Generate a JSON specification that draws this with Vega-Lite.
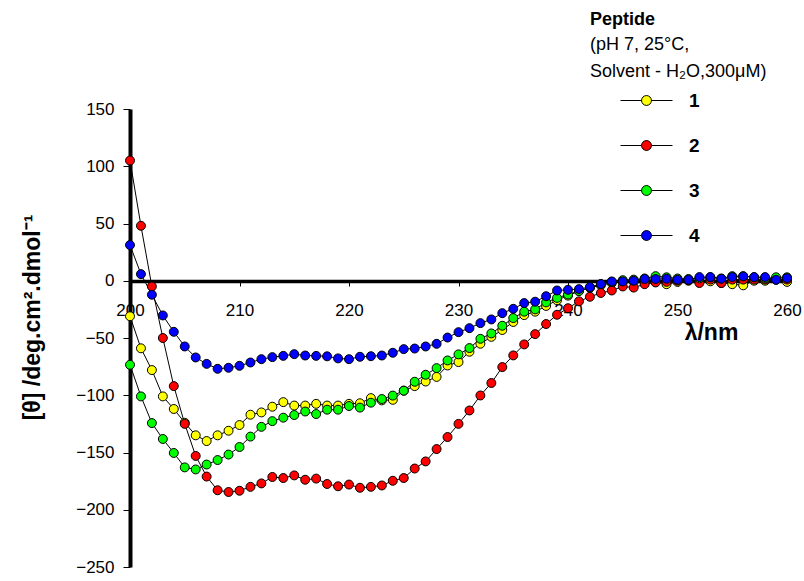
{
  "$schema": "https://vega.github.io/schema/vega-lite/v6.json",
  "autosize": "none",
  "width": 657,
  "height": 458,
  "padding": {"left": 130, "top": 109, "right": 17, "bottom": 14},
  "background": "white",
  "config": {"view": {"stroke": null}, "font": "Liberation Sans"},
  "title": {
    "text": "Peptide",
    "subtitle": ["(pH 7, 25°C,", "\u00a0Solvent - H₂O,300μM)"],
    "anchor": "start",
    "frame": "group",
    "dx": 460,
    "offset": -7,
    "font": "Liberation Sans",
    "fontSize": 18,
    "fontWeight": "bold",
    "color": "black",
    "subtitleFont": "Liberation Sans",
    "subtitleFontSize": 18,
    "subtitleFontWeight": "normal",
    "subtitleColor": "black",
    "subtitlePadding": 7,
    "subtitleLineHeight": 27
  },
  "data": {"values": [
    {"p":"1","x":200,"v":-31},{"p":"1","x":201,"v":-59},{"p":"1","x":202,"v":-78},{"p":"1","x":203,"v":-101},{"p":"1","x":204,"v":-112},{"p":"1","x":205,"v":-124},{"p":"1","x":206,"v":-135},{"p":"1","x":207,"v":-140},{"p":"1","x":208,"v":-135},{"p":"1","x":209,"v":-131},{"p":"1","x":210,"v":-126},{"p":"1","x":211,"v":-117},{"p":"1","x":212,"v":-115},{"p":"1","x":213,"v":-110},{"p":"1","x":214,"v":-106},{"p":"1","x":215,"v":-109},{"p":"1","x":216,"v":-109},{"p":"1","x":217,"v":-107.5},{"p":"1","x":218,"v":-109},{"p":"1","x":219,"v":-109},{"p":"1","x":220,"v":-107.5},{"p":"1","x":221,"v":-107},{"p":"1","x":222,"v":-102.5},{"p":"1","x":223,"v":-104.5},{"p":"1","x":224,"v":-104},{"p":"1","x":225,"v":-96},{"p":"1","x":226,"v":-92},{"p":"1","x":227,"v":-88},{"p":"1","x":228,"v":-84},{"p":"1","x":229,"v":-74},{"p":"1","x":230,"v":-71},{"p":"1","x":231,"v":-62},{"p":"1","x":232,"v":-55},{"p":"1","x":233,"v":-49},{"p":"1","x":234,"v":-43},{"p":"1","x":235,"v":-36},{"p":"1","x":236,"v":-30},{"p":"1","x":237,"v":-27},{"p":"1","x":238,"v":-22},{"p":"1","x":239,"v":-17},{"p":"1","x":240,"v":-13},{"p":"1","x":241,"v":-9},{"p":"1","x":242,"v":-6},{"p":"1","x":243,"v":-4},{"p":"1","x":244,"v":-2},{"p":"1","x":245,"v":-1},{"p":"1","x":246,"v":-1},{"p":"1","x":247,"v":-1.5},{"p":"1","x":248,"v":-1},{"p":"1","x":249,"v":-3},{"p":"1","x":250,"v":-1},{"p":"1","x":251,"v":0},{"p":"1","x":252,"v":0},{"p":"1","x":253,"v":-0.5},{"p":"1","x":254,"v":-2},{"p":"1","x":255,"v":-3},{"p":"1","x":256,"v":-4},{"p":"1","x":257,"v":0},{"p":"1","x":258,"v":0},{"p":"1","x":259,"v":1},{"p":"1","x":260,"v":-1},
    {"p":"2","x":200,"v":105},{"p":"2","x":201,"v":48},{"p":"2","x":202,"v":-5},{"p":"2","x":203,"v":-50},{"p":"2","x":204,"v":-92},{"p":"2","x":205,"v":-125},{"p":"2","x":206,"v":-153},{"p":"2","x":207,"v":-171},{"p":"2","x":208,"v":-183},{"p":"2","x":209,"v":-184.5},{"p":"2","x":210,"v":-183.4},{"p":"2","x":211,"v":-180},{"p":"2","x":212,"v":-177},{"p":"2","x":213,"v":-171.4},{"p":"2","x":214,"v":-172.3},{"p":"2","x":215,"v":-170},{"p":"2","x":216,"v":-173.8},{"p":"2","x":217,"v":-172.8},{"p":"2","x":218,"v":-177.5},{"p":"2","x":219,"v":-179.5},{"p":"2","x":220,"v":-178},{"p":"2","x":221,"v":-180.8},{"p":"2","x":222,"v":-180},{"p":"2","x":223,"v":-178.8},{"p":"2","x":224,"v":-174.7},{"p":"2","x":225,"v":-172.3},{"p":"2","x":226,"v":-164},{"p":"2","x":227,"v":-157.8},{"p":"2","x":228,"v":-147},{"p":"2","x":229,"v":-136.5},{"p":"2","x":230,"v":-125},{"p":"2","x":231,"v":-113.3},{"p":"2","x":232,"v":-100.2},{"p":"2","x":233,"v":-89.3},{"p":"2","x":234,"v":-75.4},{"p":"2","x":235,"v":-65.2},{"p":"2","x":236,"v":-55.6},{"p":"2","x":237,"v":-46.6},{"p":"2","x":238,"v":-37.8},{"p":"2","x":239,"v":-29.7},{"p":"2","x":240,"v":-24},{"p":"2","x":241,"v":-18},{"p":"2","x":242,"v":-14},{"p":"2","x":243,"v":-10.7},{"p":"2","x":244,"v":-8.5},{"p":"2","x":245,"v":-5},{"p":"2","x":246,"v":-6},{"p":"2","x":247,"v":-3},{"p":"2","x":248,"v":-1.5},{"p":"2","x":249,"v":-1},{"p":"2","x":250,"v":0},{"p":"2","x":251,"v":0.5},{"p":"2","x":252,"v":-2},{"p":"2","x":253,"v":1},{"p":"2","x":254,"v":-2},{"p":"2","x":255,"v":1},{"p":"2","x":256,"v":1},{"p":"2","x":257,"v":1},{"p":"2","x":258,"v":1},{"p":"2","x":259,"v":1},{"p":"2","x":260,"v":1},
    {"p":"3","x":200,"v":-73.4},{"p":"3","x":201,"v":-101},{"p":"3","x":202,"v":-124.3},{"p":"3","x":203,"v":-138.2},{"p":"3","x":204,"v":-150.4},{"p":"3","x":205,"v":-163},{"p":"3","x":206,"v":-164.8},{"p":"3","x":207,"v":-160.5},{"p":"3","x":208,"v":-156.6},{"p":"3","x":209,"v":-151.8},{"p":"3","x":210,"v":-145.2},{"p":"3","x":211,"v":-136.1},{"p":"3","x":212,"v":-127.6},{"p":"3","x":213,"v":-122.6},{"p":"3","x":214,"v":-119.6},{"p":"3","x":215,"v":-117.3},{"p":"3","x":216,"v":-114.2},{"p":"3","x":217,"v":-116.4},{"p":"3","x":218,"v":-112.6},{"p":"3","x":219,"v":-112.6},{"p":"3","x":220,"v":-109.4},{"p":"3","x":221,"v":-110.8},{"p":"3","x":222,"v":-106.5},{"p":"3","x":223,"v":-103.3},{"p":"3","x":224,"v":-100.3},{"p":"3","x":225,"v":-96},{"p":"3","x":226,"v":-88.2},{"p":"3","x":227,"v":-82.1},{"p":"3","x":228,"v":-76.3},{"p":"3","x":229,"v":-69.6},{"p":"3","x":230,"v":-64.3},{"p":"3","x":231,"v":-58.8},{"p":"3","x":232,"v":-50.7},{"p":"3","x":233,"v":-46},{"p":"3","x":234,"v":-39.3},{"p":"3","x":235,"v":-32.6},{"p":"3","x":236,"v":-27},{"p":"3","x":237,"v":-25},{"p":"3","x":238,"v":-18.9},{"p":"3","x":239,"v":-15},{"p":"3","x":240,"v":-12},{"p":"3","x":241,"v":-9},{"p":"3","x":242,"v":-6},{"p":"3","x":243,"v":-3},{"p":"3","x":244,"v":-1},{"p":"3","x":245,"v":0.5},{"p":"3","x":246,"v":1},{"p":"3","x":247,"v":2},{"p":"3","x":248,"v":4},{"p":"3","x":249,"v":3},{"p":"3","x":250,"v":2},{"p":"3","x":251,"v":1.5},{"p":"3","x":252,"v":2},{"p":"3","x":253,"v":3},{"p":"3","x":254,"v":2},{"p":"3","x":255,"v":4},{"p":"3","x":256,"v":4},{"p":"3","x":257,"v":3},{"p":"3","x":258,"v":2},{"p":"3","x":259,"v":3},{"p":"3","x":260,"v":3},
    {"p":"4","x":200,"v":31.2},{"p":"4","x":201,"v":5.8},{"p":"4","x":202,"v":-12.2},{"p":"4","x":203,"v":-30.3},{"p":"4","x":204,"v":-44.6},{"p":"4","x":205,"v":-57.4},{"p":"4","x":206,"v":-67},{"p":"4","x":207,"v":-72.6},{"p":"4","x":208,"v":-76.9},{"p":"4","x":209,"v":-76},{"p":"4","x":210,"v":-74.3},{"p":"4","x":211,"v":-71.4},{"p":"4","x":212,"v":-68.5},{"p":"4","x":213,"v":-66.7},{"p":"4","x":214,"v":-65.6},{"p":"4","x":215,"v":-64.1},{"p":"4","x":216,"v":-65.3},{"p":"4","x":217,"v":-65.6},{"p":"4","x":218,"v":-66},{"p":"4","x":219,"v":-67.8},{"p":"4","x":220,"v":-68.5},{"p":"4","x":221,"v":-66.4},{"p":"4","x":222,"v":-65.9},{"p":"4","x":223,"v":-65.3},{"p":"4","x":224,"v":-62.9},{"p":"4","x":225,"v":-59.7},{"p":"4","x":226,"v":-59.2},{"p":"4","x":227,"v":-57.4},{"p":"4","x":228,"v":-55.1},{"p":"4","x":229,"v":-49.6},{"p":"4","x":230,"v":-44.9},{"p":"4","x":231,"v":-41.4},{"p":"4","x":232,"v":-37},{"p":"4","x":233,"v":-33.8},{"p":"4","x":234,"v":-28.3},{"p":"4","x":235,"v":-24.5},{"p":"4","x":236,"v":-19.5},{"p":"4","x":237,"v":-18.3},{"p":"4","x":238,"v":-13.5},{"p":"4","x":239,"v":-8.5},{"p":"4","x":240,"v":-7.9},{"p":"4","x":241,"v":-7.3},{"p":"4","x":242,"v":-5.5},{"p":"4","x":243,"v":-2.9},{"p":"4","x":244,"v":-0.6},{"p":"4","x":245,"v":-0.6},{"p":"4","x":246,"v":0},{"p":"4","x":247,"v":1.5},{"p":"4","x":248,"v":1.5},{"p":"4","x":249,"v":1.7},{"p":"4","x":250,"v":0.9},{"p":"4","x":251,"v":0.9},{"p":"4","x":252,"v":3.2},{"p":"4","x":253,"v":3.2},{"p":"4","x":254,"v":1.7},{"p":"4","x":255,"v":3.2},{"p":"4","x":256,"v":3.8},{"p":"4","x":257,"v":3.2},{"p":"4","x":258,"v":3.2},{"p":"4","x":259,"v":0.9},{"p":"4","x":260,"v":2.3}
  ]},
  "encoding": {
    "x": {
      "field": "x", "type": "quantitative",
      "scale": {"domain": [200, 260], "nice": false, "zero": false},
      "axis": {
        "values": [200, 210, 220, 230, 240, 250, 260],
        "offset": -286,
        "grid": false,
        "domainColor": "black", "domainWidth": 3.5,
        "tickColor": "black", "tickWidth": 1, "tickSize": 5,
        "labelFont": "Liberation Sans", "labelFontSize": 17, "labelColor": "black",
        "labelPadding": 16, "labelFlush": false, "labelOverlap": false,
        "title": "λ/nm",
        "titleFont": "Liberation Sans", "titleFontSize": 23, "titleFontWeight": "bold", "titleColor": "black",
        "titleX": 581, "titleY": 51, "titleAlign": "center", "titleBaseline": "middle"
      }
    },
    "y": {
      "field": "v", "type": "quantitative",
      "scale": {"domain": [-250, 150], "nice": false, "zero": false},
      "axis": {
        "values": [-250, -200, -150, -100, -50, 0, 50, 100, 150],
        "grid": false,
        "domainColor": "black", "domainWidth": 4,
        "tickColor": "black", "tickWidth": 1, "tickSize": 7,
        "labelFont": "Liberation Sans", "labelFontSize": 17, "labelColor": "black",
        "labelPadding": 9, "labelFlush": false, "labelOverlap": false,
        "title": "[θ] /deg.cm².dmol⁻¹",
        "titleFont": "Liberation Sans", "titleFontSize": 23, "titleFontWeight": "bold", "titleColor": "black",
        "titleX": -98, "titleY": 208, "titleAngle": 270, "titleAlign": "center", "titleBaseline": "middle"
      }
    }
  },
  "layer": [
    {
      "mark": {"type": "line", "color": "black", "strokeWidth": 1},
      "encoding": {"detail": {"field": "p"}}
    },
    {
      "mark": {"type": "point", "shape": "circle", "filled": true, "size": 80, "stroke": "black", "strokeWidth": 1, "opacity": 1},
      "encoding": {
        "fill": {
          "field": "p", "type": "nominal",
          "scale": {"domain": ["1", "2", "3", "4"], "range": ["#FFFF00", "#FF0000", "#00FF00", "#0000FF"]},
          "legend": {
            "orient": "none", "legendX": 490, "legendY": -35,
            "title": null, "padding": 0,
            "symbolType": "M-1,0H-0.19M0.19,0H1M-0.19,0A0.19,0.19,0,1,1,0.19,0A0.19,0.19,0,1,1,-0.19,0Z",
            "symbolSize": 2704, "symbolStrokeColor": "black", "symbolStrokeWidth": 1, "symbolOpacity": 1,
            "labelFont": "Liberation Sans", "labelFontSize": 19, "labelFontWeight": "bold", "labelColor": "black",
            "labelOffset": 16, "rowPadding": 8
          }
        }
      }
    }
  ]
}
